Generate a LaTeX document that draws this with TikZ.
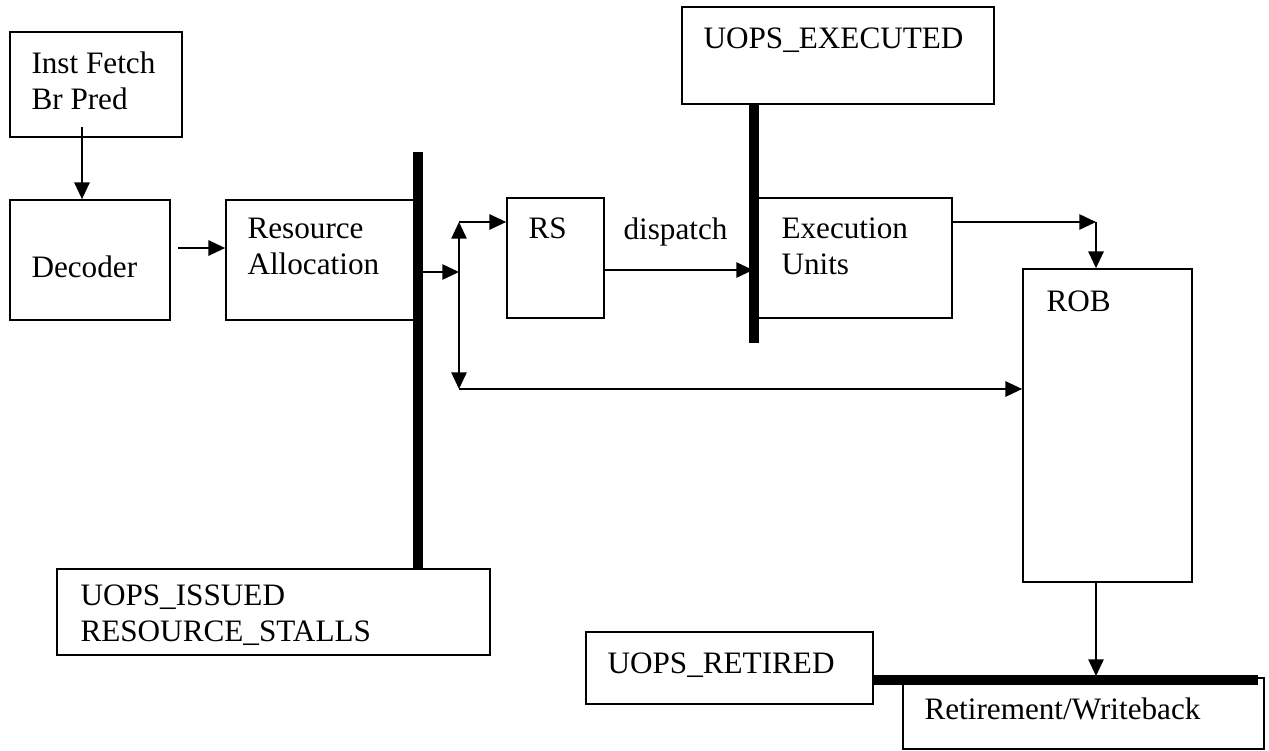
\documentclass[tikz,border=0pt]{standalone}
\usepackage{fontspec}
\setmainfont{Liberation Serif}
\usetikzlibrary{arrows.meta}

\tikzset{every picture/.style={line width=0.75pt}}
\tikzset{
  blk/.style={draw, line width=1.3pt, inner sep=0pt},
  txt/.style={anchor=north west, inner sep=0pt, align=left, font=\fontsize{23.4}{27}\selectfont},
  arr/.style={line width=1.2pt, -{Triangle[length=12.5pt,width=11.5pt]}},
  dbl/.style={line width=1.2pt, {Triangle[length=12.5pt,width=11.5pt]}-{Triangle[length=12.5pt,width=11.5pt]}},
  bar/.style={line width=7.5pt},
}

\begin{document}
\begin{tikzpicture}[x=0.75pt,y=0.75pt,yscale=-1,xscale=1]
	%set diagram size
	\path[fill=white] (0,0) rectangle (1269,750);

	%Shape: Rectangle [Inst Fetch]
	\node[blk, minimum width=129pt, minimum height=78.75pt] (instf) at (96,84.5) {};
	%Shape: Rectangle [Decoder]
	\node[blk, minimum width=120pt, minimum height=90pt] (dec) at (90,260) {};
	%Shape: Rectangle [Resource Allocation]
	\node[blk, minimum width=144pt, minimum height=90pt] (res) at (322,260) {};
	%Shape: Rectangle [RS]
	\node[blk, minimum width=72.75pt, minimum height=90pt] (rs) at (555.5,258) {};
	%Shape: Rectangle [UOPS_EXECUTED]
	\node[blk, minimum width=234pt, minimum height=72.75pt] (uexe) at (838,55.5) {};
	%Shape: Rectangle [Execution Units]
	\node[blk, minimum width=145.5pt, minimum height=90pt] (exe) at (855,258) {};
	%Shape: Rectangle [ROB]
	\node[blk, minimum width=126.75pt, minimum height=234.75pt] (rob) at (1107.5,425.5) {};
	%Shape: Rectangle [UOPS_ISSUED]
	\node[blk, minimum width=324.75pt, minimum height=64.5pt] (uiss) at (273.5,612) {};
	%Shape: Rectangle [UOPS_RETIRED]
	\node[blk, minimum width=215.25pt, minimum height=54pt] (uret) at (729.5,668) {};
	%Shape: Rectangle [Retirement/Writeback]
	\node[blk, minimum width=270.75pt, minimum height=53.25pt] (retw) at (1083.5,713.5) {};

	%Bars
	\coordinate (isstop) at (418,152);
	\coordinate (exebot) at (754,343);
	\coordinate (retend) at (1258,680);
	\draw[bar] (isstop) -- (isstop |- uiss.north);
	\draw[bar] (exebot |- uexe.south) -- (exebot);
	\draw[bar] (retend -| uret.east) -- (retend);

	%Connectors
	\coordinate (fin) at (82,127);
	\coordinate (dout) at (178,248);
	\coordinate (jn) at (459,272);
	\coordinate (jt) at (459,222);
	\coordinate (jb) at (459,389);
	\coordinate (dspin) at (753,270);
	\coordinate (robin) at (1096,222);
	\coordinate (retin) at (1096,676);
	\draw[arr] (fin) -- (fin |- dec.north);
	\draw[arr] (dout) -- (dout -| res.west);
	\draw[arr] (isstop |- jn) -- (jn);
	\draw[dbl] (jt) -- (jb);
	\draw[arr] (jt) -- (jt -| rs.west);
	\draw[arr] (jb) -- (jb -| rob.west);
	\draw[arr] (dspin -| rs.east) -- (dspin);
	\draw[arr] (robin -| exe.east) -- (robin);
	\draw[arr] (robin) -- (robin |- rob.north);
	\draw[arr] (robin |- rob.south) -- (retin);

	% Text Node
	\node[txt] (instt) at (31,51) {Inst Fetch\\Br Pred};
	% Text Node
	\node[txt] (dect) at (31,255) {Decoder};
	% Text Node
	\node[txt] (rest) at (247,218) {Resource\\Allocation};
	% Text Node
	\node[txt] (rst) at (528,217) {RS};
	% Text Node
	\node[txt] (dspt) at (623,217) {dispatch};
	% Text Node
	\node[txt] (exet) at (781,217) {Execution\\Units};
	% Text Node
	\node[txt] (robt) at (1046,290) {ROB};
	% Text Node
	\node[txt] (uexet) at (703,27) {UOPS\_EXECUTED};
	% Text Node
	\node[txt] (uisst) at (80,584) {UOPS\_ISSUED\\RESOURCE\_STALLS};
	% Text Node
	\node[txt] (urett) at (607,652) {UOPS\_RETIRED};
	% Text Node
	\node[txt] (retwt) at (924,697) {Retirement/Writeback};

\end{tikzpicture}
\end{document}
